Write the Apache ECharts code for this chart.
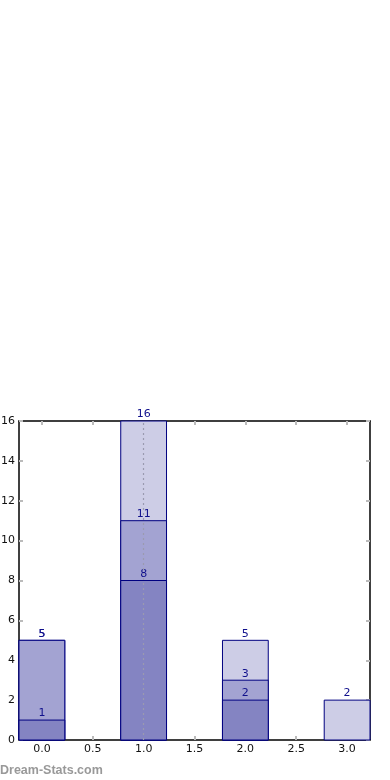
<!DOCTYPE html>
<html>
<head>
<meta charset="utf-8">
<script src="https://cdn.jsdelivr.net/npm/echarts@6/dist/echarts.min.js"></script>
<style>
html,body{margin:0;padding:0;background:#fff;}
#chart{width:390px;height:780px;}
</style>
</head>
<body>
<div id="chart"></div>
<script>
var categories = [0, 1, 2, 3];
var lightValues = [5, 16, 5, 2];
var mediumValues = [5, 11, 3, null];
var darkValues = [1, 8, 2, null];
var xTickLabels = [0, 0.5, 1, 1.5, 2, 2.5, 3];
var yTickLabels = [0, 2, 4, 6, 8, 10, 12, 14, 16];
var refLineX = [1];
var barHalfWidth = 0.225;

function toData(vals) {
  var out = [];
  for (var i = 0; i < categories.length; i++) {
    if (vals[i] !== null) out.push([categories[i], vals[i]]);
  }
  return out;
}

function makeRender(fill) {
  return function (params, api) {
    var x = api.value(0), v = api.value(1);
    var p1 = api.coord([x - barHalfWidth, v]);
    var p2 = api.coord([x + barHalfWidth, 0]);
    var pc = api.coord([x, v]);
    return {
      type: 'group',
      children: [
        {
          type: 'rect',
          shape: { x: p1[0], y: p1[1], width: p2[0] - p1[0], height: p2[1] - p1[1] },
          style: { fill: fill, stroke: '#000080', lineWidth: 1 }
        },
        {
          type: 'text',
          x: pc[0], y: pc[1] - 1,
          style: {
            text: String(v), fill: '#10108c', fontSize: 11,
            fontFamily: 'DejaVu Sans', align: 'center', verticalAlign: 'bottom'
          },
          z2: 10
        }
      ]
    };
  };
}

var chart = echarts.init(document.getElementById('chart'));
var tickStyle = { show: true, inside: true, length: 4, lineStyle: { color: '#bbbbbb', width: 2 } };
var lineStyleAxis = { show: true, onZero: false, lineStyle: { color: '#000', width: 1.5 } };
var labelStyle = { color: '#111', fontSize: 11, fontFamily: 'DejaVu Sans' };

chart.setOption({
  animation: false,
  backgroundColor: '#fff',
  grid: { left: 19, right: 20, top: 421, bottom: 40, containLabel: false, outerBoundsMode: 'none' },
  graphic: [{
    type: 'text', left: 0, top: 764,
    style: { text: 'Dream-Stats.com', fill: '#999', fontSize: 12.5, fontWeight: 'bold', fontFamily: 'Liberation Sans' }
  }],
  xAxis: [
    {
      type: 'value', min: -barHalfWidth, max: 3 + barHalfWidth, position: 'bottom',
      axisLine: lineStyleAxis,
      axisTick: Object.assign({}, tickStyle, { customValues: xTickLabels }),
      axisLabel: Object.assign({}, labelStyle, { customValues: xTickLabels, margin: 4,
        formatter: function (v) { return v.toFixed(1); } }),
      splitLine: { show: false }
    },
    {
      type: 'value', min: -barHalfWidth, max: 3 + barHalfWidth, position: 'top',
      axisLine: lineStyleAxis,
      axisTick: Object.assign({}, tickStyle, { customValues: xTickLabels }),
      axisLabel: { show: false },
      splitLine: { show: false }
    }
  ],
  yAxis: [
    {
      type: 'value', min: 0, max: 16, interval: 2, position: 'left',
      axisLine: lineStyleAxis,
      axisTick: Object.assign({}, tickStyle, { customValues: yTickLabels }),
      axisLabel: Object.assign({}, labelStyle, { customValues: yTickLabels, margin: 4 }),
      splitLine: { show: false }
    },
    {
      type: 'value', min: 0, max: 16, interval: 2, position: 'right',
      axisLine: lineStyleAxis,
      axisTick: Object.assign({}, tickStyle, { customValues: yTickLabels }),
      axisLabel: { show: false },
      splitLine: { show: false }
    }
  ],
  series: [
    { type: 'custom', name: 'light', data: toData(lightValues), renderItem: makeRender('#cdcde6'), z: 2 },
    { type: 'custom', name: 'medium', data: toData(mediumValues), renderItem: makeRender('#a3a3d2'), z: 3 },
    { type: 'custom', name: 'dark', data: toData(darkValues), renderItem: makeRender('#8484c2'), z: 4,
      markLine: {
        silent: true, symbol: 'none', label: { show: false },
        lineStyle: { color: '#9a9ab0', type: [2, 3], width: 1.2 },
        data: [{ xAxis: refLineX[0] }], z: 10
      }
    }
  ]
});
</script>
</body>
</html>
